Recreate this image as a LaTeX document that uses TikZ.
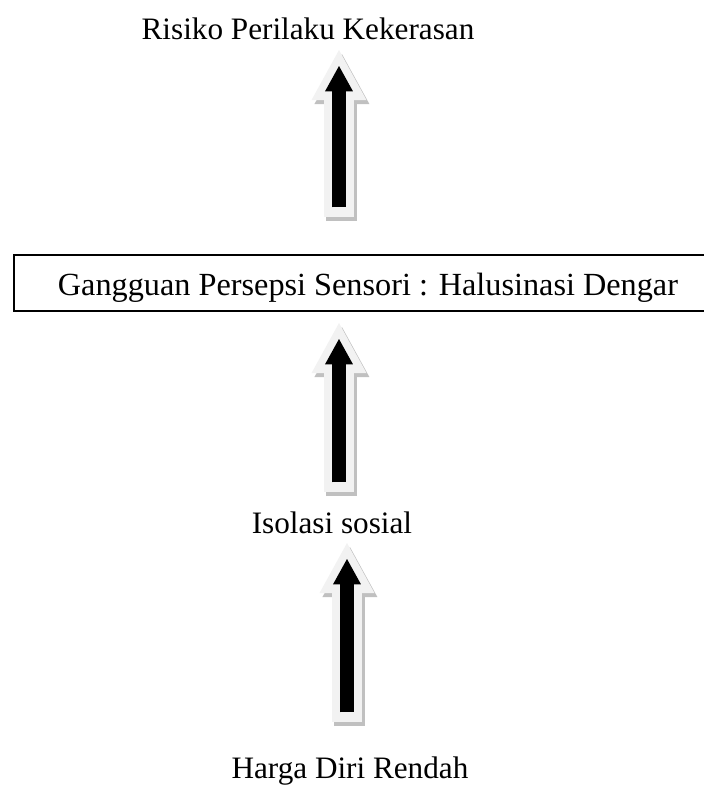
\documentclass[tikz,border=0pt]{standalone}
\usepackage{fontspec}
\setmainfont{Liberation Serif}
\usetikzlibrary{arrows.meta}

\definecolor{rimgray}{HTML}{F2F2F2}
\definecolor{shadegray}{HTML}{C0C0C0}

\begin{document}
\begin{tikzpicture}[x=0.375pt,y=-0.375pt,
    label/.style={anchor=base,inner sep=0pt,font=\fontsize{11.7}{14}\selectfont},
    framed/.style={label,draw,line width=0.45pt,text height=15pt,text depth=6pt,
      minimum width=270pt,font=\fontsize{12.1}{14}\selectfont},
    shade/.style={draw=shadegray,line width=11.6pt,
      -{Triangle[length=18.75pt,width=20.6pt,line width=0pt]},
      transform canvas={shift={(1.1pt,-1.5pt)}}},
    rim/.style={draw=rimgray,line width=11.6pt,
      -{Triangle[length=18.75pt,width=20.6pt,line width=0pt]}},
    core/.style={draw=black,line width=5pt,shorten <=3.6pt,shorten >=6pt,
      -{Triangle[length=9.5pt,width=10.5pt,line width=0pt]}}]

  \useasboundingbox (0,0) rectangle (704,785);

  % teks
  \node[label] (risiko) at (308,39) {Risiko Perilaku Kekerasan};
  \node[framed] (halusinasi) at (374,295) {Gangguan Persepsi Sensori : Halusinasi Dengar\kern4.5pt\strut};
  \node[label] (isolasi) at (332,533) {Isolasi sosial};
  \node[label] (harga) at (350,778) {Harga Diri Rendah};

  % ujung panah
  \coordinate (p1a) at (339,217);
  \coordinate (p1b) at (339,50);
  \coordinate (p2a) at (339,492);
  \coordinate (p2b) at (339,323);
  \coordinate (p3a) at (347,722);
  \coordinate (p3b) at (347,543);

  \draw[shade] (p1a) -- (p1b);
  \draw[rim] (p1a) -- (p1b);
  \draw[core] (p1a) -- (p1b);

  \draw[shade] (p2a) -- (p2b);
  \draw[rim] (p2a) -- (p2b);
  \draw[core] (p2a) -- (p2b);

  \draw[shade] (p3a) -- (p3b);
  \draw[rim] (p3a) -- (p3b);
  \draw[core] (p3a) -- (p3b);

\end{tikzpicture}
\end{document}
